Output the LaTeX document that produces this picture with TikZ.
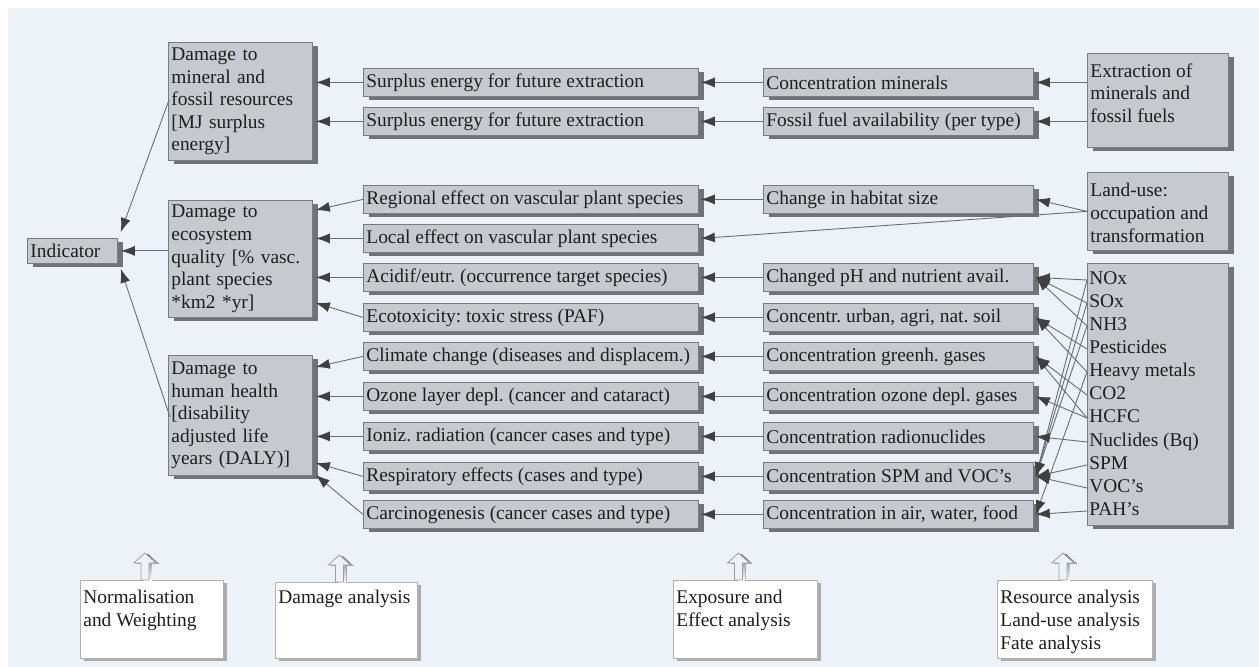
\documentclass[tikz,border=0pt]{standalone}
\usepackage{fontspec}
\setmainfont{Liberation Serif}
\usetikzlibrary{shadows,arrows.meta,calc}
\definecolor{panel}{RGB}{237,242,249}
\definecolor{boxfill}{RGB}{198,202,207}
\definecolor{boxline}{RGB}{120,124,130}
\definecolor{shade}{RGB}{112,114,118}
\definecolor{ink}{RGB}{30,30,30}
\definecolor{wire}{RGB}{105,110,118}
% one-line labels padded to the width of their column
\newcommand\effrow[1]{\makebox[164.5pt][l]{#1}}
\newcommand\exprow[1]{\makebox[132pt][l]{#1}}
\tikzset{
  every node/.style={font=\fontsize{9.7pt}{11.3pt}\selectfont\frenchspacing, text=ink},
  gshadow/.style={drop shadow={shadow xshift=3pt, shadow yshift=-2pt, fill=shade, opacity=1}},
  gbox/.style={draw=boxline, line width=0.4pt, fill=boxfill, anchor=north west,
    inner xsep=1.5pt, inner ysep=0pt, align=left, text width=#1, minimum height=14pt, gshadow},
  sbox/.style={draw=boxline, line width=0.4pt, fill=boxfill, anchor=north west,
    inner xsep=1.5pt, inner ysep=0pt, minimum height=14pt, gshadow},
  gpanel/.style 2 args={draw=boxline, line width=0.4pt, fill=boxfill, anchor=north west,
    inner sep=0pt, minimum width=#1, minimum height=#2, gshadow},
  wbox/.style 2 args={draw=gray!60, line width=0.4pt, fill=white, anchor=north west,
    inner sep=0pt, minimum width=#1, minimum height=#2,
    drop shadow={shadow xshift=2pt, shadow yshift=-1.5pt, fill=gray!65, opacity=1}},
  inside/.style={anchor=north west, inner xsep=1.5pt, inner ysep=0pt, align=left},
  item/.style={anchor=west, inner xsep=1pt, inner ysep=0pt, text height=6.8pt, text depth=2pt},
  wire/.style={draw=wire, line width=0.45pt, -{Latex[length=7pt,width=5pt,color=ink!85]}},
  pics/upshaft/.style={code={
    \fill[shade] (-1,1) -- (-1,-16) -- (-8,-16) -- (3,-26) -- (14,-16) -- (7,-16) -- (7,1) -- cycle;
    \filldraw[fill=panel, draw=gray!75, line width=0.4pt]
      (-4,0) -- (-4,-17) -- (-11,-17) -- (0,-27) -- (11,-17) -- (4,-17) -- (4,0) -- cycle;
  }}
}
\begin{document}
\begin{tikzpicture}[x=0.5pt,y=-0.5pt]
\useasboundingbox (0,0) rectangle (1259,667);
\fill[white] (0,0) rectangle (1259,667);
\fill[panel] (8,8) rectangle (1259,667);

% indicator and damage categories
\node[gbox=42pt, minimum height=12.5pt] (ind) at (27,238) {Indicator};
\node[gbox=69pt, minimum height=59pt] (dmin) at (168,42)
  {Damage to\\mineral and\\fossil resources\\{[}MJ surplus\\energy{]}};
\node[gbox=69pt, minimum height=58.5pt] (deco) at (168,200)
  {Damage to\\ecosystem\\quality {[}\% vasc.\\plant species\\{}*km2 *yr{]}};
\node[gbox=69pt, minimum height=60pt] (dhh) at (168,355)
  {Damage to\\human health\\{[}disability\\adjusted life\\years (DALY){]}};

% effect column
\node[sbox] (e1) at (363,68) {\effrow{Surplus energy for future extraction}};
\node[sbox] (e2) at (363,107) {\effrow{Surplus energy for future extraction}};
\node[sbox] (e3) at (363,185) {\effrow{Regional effect on vascular plant species}};
\node[sbox] (e4) at (363,224) {\effrow{Local effect on vascular plant species}};
\node[sbox] (e5) at (363,263) {\effrow{Acidif/eutr. (occurrence target species)}};
\node[sbox] (e6) at (363,303) {\effrow{Ecotoxicity: toxic stress (PAF)}};
\node[sbox] (e7) at (363,342) {\effrow{Climate change (diseases and displacem.)}};
\node[sbox] (e8) at (363,382) {\effrow{Ozone layer depl. (cancer and cataract)}};
\node[sbox] (e9) at (363,422) {\effrow{Ioniz. radiation (cancer cases and type)}};
\node[sbox] (e10) at (363,462) {\effrow{Respiratory effects (cases and type)}};
\node[sbox] (e11) at (363,500) {\effrow{Carcinogenesis (cancer cases and type)}};

% exposure column
\node[sbox] (x1) at (763,68) {\exprow{Concentration minerals}};
\node[sbox] (x2) at (763,107) {\exprow{Fossil fuel availability (per type)}};
\node[sbox] (x3) at (763,185) {\exprow{Change in habitat size}};
\node[sbox] (x5) at (763,263) {\exprow{Changed pH and nutrient avail.}};
\node[sbox] (x6) at (763,303) {\exprow{Concentr. urban, agri, nat. soil}};
\node[sbox] (x7) at (763,342) {\exprow{Concentration greenh. gases}};
\node[sbox] (x8) at (763,382) {\exprow{Concentration ozone depl. gases}};
\node[sbox] (x9) at (763,422) {\exprow{Concentration radionuclides}};
\node[sbox] (x10) at (763,462) {\exprow{Concentration SPM and VOC's}};
\node[sbox] (x11) at (763,500) {\exprow{Concentration in air, water, food}};

% sources
\node[gpanel={70.5pt}{47pt}] (ext) at (1087,53) {};
\node[inside] (text-ext) at ($(ext.north west)+(0,10)$) {Extraction of\\minerals and\\fossil fuels};
\node[gpanel={70.5pt}{39pt}] (lu) at (1087,172) {};
\node[inside] (text-lu) at ($(lu.north west)+(0,11)$) {Land-use:\\occupation and\\transformation};
\node[gpanel={70.5pt}{131pt}] (fate) at (1087,263) {};
\node[item] (f1) at (1087,280) {NOx};
\node[item] (f2) at (1087,303) {SOx};
\node[item] (f3) at (1087,326) {NH3};
\node[item] (f4) at (1087,349) {Pesticides};
\node[item] (f5) at (1087,372) {Heavy metals};
\node[item] (f6) at (1087,395) {CO2};
\node[item] (f7) at (1087,418) {HCFC};
\node[item] (f8) at (1087,442) {Nuclides (Bq)};
\node[item] (f9) at (1087,465) {SPM};
\node[item] (f10) at (1087,488) {VOC's};
\node[item] (f11) at (1087,511) {PAH's};

% analysis steps
\node[wbox={71.5pt}{39pt}] (nrm) at (80,580) {};
\node[inside] (text-nrm) at ($(nrm.north west)+(0,10)$) {Normalisation\\and Weighting};
\node[wbox={71pt}{38pt}] (dam) at (275,582) {};
\node[inside] (text-dam) at ($(dam.north west)+(0,8)$) {Damage analysis};
\node[wbox={72pt}{39pt}] (exa) at (673,580) {};
\node[inside] (text-exa) at ($(exa.north west)+(0,10)$) {Exposure and\\Effect analysis};
\node[wbox={77.5pt}{39pt}] (res) at (997,580) {};
\node[inside] (text-res) at ($(res.north west)+(0,10)$) {Resource analysis\\Land-use analysis\\Fate analysis};

\pic at ($(nrm.north)+(-7,0)$) {upshaft};
\pic at ($(dam.north)+(-7,0)$) {upshaft};
\pic at ($(exa.north)+(-7,0)$) {upshaft};
\pic at ($(res.north)+(-12,0)$) {upshaft};

% damage categories to indicator
\draw[wire] ($(dmin.north west)+(1,58)$) -- ($(ind.north east)+(3,-6)$);
\draw[wire] (deco.west |- ind.east) -- ($(ind.east)+(3,0)$);
\draw[wire] ($(dhh.north west)+(2,62)$) -- ($(ind.south east)+(3,5)$);

% effects to damage categories
\draw[wire] (e1.west) -- ($(dmin.east |- e1.west)+(3,0)$);
\draw[wire] (e2.west) -- ($(dmin.east |- e2.west)+(3,0)$);
\draw[wire] (e3.west) -- ($(deco.north east)+(3,10)$);
\draw[wire] (e4.west) -- ($(deco.east |- e4.west)+(3,0)$);
\draw[wire] (e5.west) -- ($(deco.east |- e5.west)+(3,0)$);
\draw[wire] (e6.west) -- ($(deco.north east)+(3,103)$);
\draw[wire] (e7.west) -- ($(dhh.north east)+(3,12)$);
\draw[wire] (e8.west) -- ($(dhh.east |- e8.west)+(3,0)$);
\draw[wire] (e9.west) -- ($(dhh.east |- e9.west)+(3,0)$);
\draw[wire] (e10.west) -- ($(dhh.north east)+(3,108)$);
\draw[wire] (e11.west) -- ($(dhh.north east)+(3,120)$);

% exposure to effects
\draw[wire] (x1.west) -- ($(e1.east)+(2,0)$);
\draw[wire] (x2.west) -- ($(e2.east)+(2,0)$);
\draw[wire] (x3.west) -- ($(e3.east)+(2,0)$);
\draw[wire] (lu.west) -- ($(e4.east)+(2,0)$);
\draw[wire] (x5.west) -- ($(e5.east)+(2,0)$);
\draw[wire] (x6.west) -- ($(e6.east)+(2,0)$);
\draw[wire] (x7.west) -- ($(e7.east)+(2,0)$);
\draw[wire] (x8.west) -- ($(e8.east)+(2,0)$);
\draw[wire] (x9.west) -- ($(e9.east)+(2,0)$);
\draw[wire] (x10.west) -- ($(e10.east)+(2,0)$);
\draw[wire] (x11.west) -- ($(e11.east)+(2,0)$);

% sources to exposure
\draw[wire] (ext.west |- x1.east) -- ($(x1.east)+(2,0)$);
\draw[wire] (ext.west |- x2.east) -- ($(x2.east)+(2,0)$);
\draw[wire] (lu.west) -- ($(x3.east)+(2,0)$);
\foreach \f in {f1,f2,f3} {
  \draw[wire] (\f.west) -- ($(x5.east)+(2,0)$);
  \draw[wire] (\f.west) -- ($(x10.east)+(2,0)$);
}
\draw[wire] (f4.west) -- ($(x6.east)+(2,0)$);
\draw[wire] (f5.west) -- ($(x6.east)+(2,0)$);
\draw[wire] (f5.west) -- ($(x11.east)+(2,0)$);
\draw[wire] (f6.west) -- ($(x7.east)+(2,0)$);
\draw[wire] (f7.west) -- ($(x7.east)+(2,0)$);
\draw[wire] (f7.west) -- ($(x8.east)+(2,0)$);
\draw[wire] (f8.west) -- ($(x9.east)+(2,0)$);
\draw[wire] (f9.west) -- ($(x10.east)+(2,0)$);
\draw[wire] (f10.west) -- ($(x10.east)+(2,0)$);
\draw[wire] (f11.west) -- ($(x11.east)+(2,0)$);
\end{tikzpicture}
\end{document}
